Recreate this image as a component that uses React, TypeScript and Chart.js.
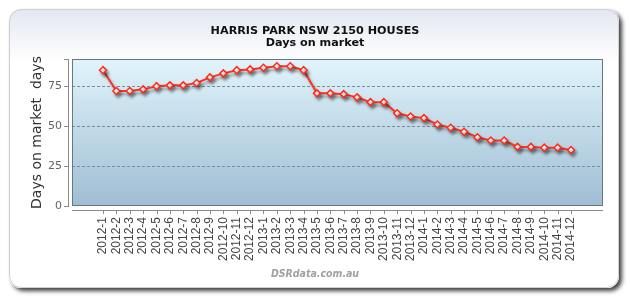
import React, { useEffect, useRef } from "react";
import { Chart, registerables } from "chart.js";

Chart.register(...registerables);

const titleLines = ["HARRIS PARK NSW 2150 HOUSES", "Days on market"];
const yAxisTitle = "Days on market  days";
const footerText = "DSRdata.com.au";

const categories = [
  "2012-1", "2012-2", "2012-3", "2012-4", "2012-5", "2012-6",
  "2012-7", "2012-8", "2012-9", "2012-10", "2012-11", "2012-12",
  "2013-1", "2013-2", "2013-3", "2013-4", "2013-5", "2013-6",
  "2013-7", "2013-8", "2013-9", "2013-10", "2013-11", "2013-12",
  "2014-1", "2014-2", "2014-3", "2014-4", "2014-5", "2014-6",
  "2014-7", "2014-8", "2014-9", "2014-10", "2014-11", "2014-12",
];

const daysOnMarket = [
  85, 72, 72, 73, 75, 75.5, 75.5, 77, 80.5, 83, 85, 85.5,
  86.5, 87.5, 87.5, 85, 70.5, 70.5, 70, 68, 65, 65, 58, 56,
  55, 51, 49, 46.5, 43, 41, 41, 37, 37, 36.5, 36.5, 35,
];

const yTicks = [0, 25, 50, 75];
const yMax = 92;

function roundRect(ctx: CanvasRenderingContext2D, x: number, y: number, w: number, h: number, r: number) {
  ctx.beginPath();
  ctx.moveTo(x + r, y);
  ctx.lineTo(x + w - r, y);
  ctx.arcTo(x + w, y, x + w, y + r, r);
  ctx.lineTo(x + w, y + h - r);
  ctx.arcTo(x + w, y + h, x + w - r, y + h, r);
  ctx.lineTo(x + r, y + h);
  ctx.arcTo(x, y + h, x, y + h - r, r);
  ctx.lineTo(x, y + r);
  ctx.arcTo(x, y, x + r, y, r);
  ctx.closePath();
}

const decorPlugin = {
  id: "decor",
  beforeDraw(chart: any) {
    const ctx: CanvasRenderingContext2D = chart.ctx;
    const { left, right, top, bottom } = chart.chartArea;
    ctx.save();
    ctx.fillStyle = "#ffffff";
    ctx.fillRect(0, 0, chart.width, chart.height);
    // card shadow
    ctx.save();
    ctx.shadowColor = "rgba(0,0,0,0.75)";
    ctx.shadowOffsetX = 3;
    ctx.shadowOffsetY = 3;
    ctx.shadowBlur = 4;
    roundRect(ctx, 9, 9, 610, 279, 12);
    ctx.fillStyle = "#ffffff";
    ctx.fill();
    ctx.restore();
    // card top gradient
    const g = ctx.createLinearGradient(0, 9, 0, 62);
    g.addColorStop(0, "#e2e7f0");
    g.addColorStop(1, "#ffffff");
    roundRect(ctx, 9, 9, 610, 279, 12);
    ctx.fillStyle = g;
    ctx.fill();
    ctx.strokeStyle = "#d0d0d0";
    ctx.lineWidth = 1;
    roundRect(ctx, 9.5, 9.5, 609, 278, 12);
    ctx.stroke();
    // plot background
    const pg = ctx.createLinearGradient(0, top, 0, bottom);
    pg.addColorStop(0, "#e0f4fb");
    pg.addColorStop(1, "#9fbdd3");
    ctx.fillStyle = pg;
    ctx.fillRect(left, top, right - left, bottom - top);
    // title
    ctx.font = "bold 11.2px 'DejaVu Sans'";
    ctx.fillStyle = "#111111";
    ctx.textAlign = "center";
    ctx.textBaseline = "alphabetic";
    ctx.fillText(titleLines[0], 315, 34);
    ctx.fillText(titleLines[1], 315, 46);
    ctx.restore();
  },
  beforeDatasetsDraw(chart: any) {
    const ctx: CanvasRenderingContext2D = chart.ctx;
    const { left, right, top, bottom } = chart.chartArea;
    const ys = chart.scales.y;
    const xs = chart.scales.x;
    ctx.save();
    // dashed grid lines
    ctx.strokeStyle = "#7f8a94";
    ctx.lineWidth = 1;
    ctx.setLineDash([3, 2]);
    yTicks.forEach((v) => {
      if (v === 0) return;
      const y = Math.round(ys.getPixelForValue(v)) + 0.5;
      ctx.beginPath();
      ctx.moveTo(left, y);
      ctx.lineTo(right, y);
      ctx.stroke();
    });
    ctx.setLineDash([]);
    // plot border
    ctx.strokeStyle = "#6a7780";
    ctx.strokeRect(left + 0.5, top + 0.5, right - left - 1, bottom - top - 1);
    // y axis line and ticks
    ctx.strokeStyle = "#8a8a8a";
    ctx.beginPath();
    ctx.moveTo(68.5, top);
    ctx.lineTo(68.5, bottom + 1);
    yTicks.forEach((v) => {
      const y = Math.round(ys.getPixelForValue(v)) + 0.5;
      ctx.moveTo(64, y);
      ctx.lineTo(69, y);
    });
    ctx.moveTo(64, top + 0.5);
    ctx.lineTo(69, top + 0.5);
    // x axis line and ticks
    ctx.moveTo(left, bottom + 4.5);
    ctx.lineTo(right, bottom + 4.5);
    categories.forEach((_, i) => {
      const x = Math.round(xs.getPixelForValue(i)) + 0.5;
      ctx.moveTo(x, bottom + 4);
      ctx.lineTo(x, bottom + 8);
    });
    ctx.stroke();
    ctx.restore();
    // shadow for series
    ctx.save();
    ctx.shadowColor = "rgba(0,0,0,0.35)";
    ctx.shadowOffsetX = 2;
    ctx.shadowOffsetY = 3;
    ctx.shadowBlur = 3;
  },
  afterDatasetsDraw(chart: any) {
    chart.ctx.restore();
  },
  afterDraw(chart: any) {
    const ctx: CanvasRenderingContext2D = chart.ctx;
    const { top, bottom } = chart.chartArea;
    ctx.save();
    ctx.translate(37, (top + bottom) / 2);
    ctx.rotate(-Math.PI / 2);
    ctx.font = "14px 'DejaVu Sans'";
    ctx.fillStyle = "#333333";
    ctx.textAlign = "center";
    ctx.textBaseline = "middle";
    ctx.fillText(yAxisTitle, 0, 0);
    ctx.restore();
    ctx.save();
    ctx.font = "italic bold 10.5px 'DejaVu Sans Condensed', 'DejaVu Sans'";
    ctx.fillStyle = "#a0a0a0";
    ctx.textAlign = "center";
    ctx.textBaseline = "middle";
    ctx.fillText(footerText, 315, 274);
    ctx.restore();
  },
};

export default function App() {
  const canvasRef = useRef<HTMLCanvasElement | null>(null);

  useEffect(() => {
    if (!canvasRef.current) return;
    const chart = new Chart(canvasRef.current, {
      type: "line",
      data: {
        datasets: [
          {
            data: daysOnMarket.map((v, i) => ({ x: i, y: v })),
            borderColor: "#ff3322",
            borderWidth: 2,
            pointStyle: "rectRot",
            pointRadius: 3.5,
            pointBorderWidth: 1.5,
            pointBackgroundColor: "#ffffff",
            pointBorderColor: "#ff2a1a",
            tension: 0,
          },
        ],
      },
      options: {
        responsive: false,
        animation: false,
        layout: { padding: { top: 59, left: 0, right: 27, bottom: 0 } },
        plugins: {
          legend: { display: false },
          tooltip: { enabled: false },
          title: { display: false },
        },
        scales: {
          x: {
            type: "linear",
            min: -2.32,
            max: 37.39,
            afterBuildTicks: (s: any) => {
              s.ticks = categories.map((_, i) => ({ value: i }));
            },
            afterFit: (s: any) => {
              s.height = 94;
            },
            ticks: {
              autoSkip: false,
              maxRotation: 90,
              minRotation: 90,
              padding: 11,
              color: "#444444",
              font: { family: "'Liberation Sans'", size: 12 },
              callback: (v: any) => categories[v as number] ?? "",
            },
            grid: { display: false, drawTicks: false },
            border: { display: false },
          },
          y: {
            min: 0,
            max: yMax,
            afterBuildTicks: (s: any) => {
              s.ticks = yTicks.map((v) => ({ value: v }));
            },
            afterFit: (s: any) => {
              s.width = 72;
            },
            ticks: {
              padding: 10,
              color: "#666666",
              font: { family: "'DejaVu Sans'", size: 11 },
            },
            grid: { display: false, drawTicks: false },
            border: { display: false },
          },
        },
      },
      plugins: [decorPlugin],
    });
    return () => chart.destroy();
  }, []);

  return (
    <div style={{ position: "fixed", left: 0, top: 0, width: 630, height: 300 }}>
      <canvas ref={canvasRef} width={630} height={300} style={{ display: "block" }} />
    </div>
  );
}
